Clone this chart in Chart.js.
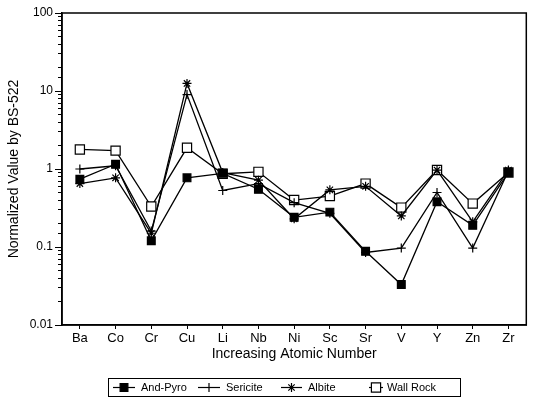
<!DOCTYPE html>
<html><head><meta charset="utf-8">
<script src="https://cdn.jsdelivr.net/npm/chart.js@4/dist/chart.umd.min.js"></script>
<style>html,body{margin:0;padding:0;background:#fff}#wrap{width:534px;height:404px;position:relative}</style>
</head><body><div id="wrap"><canvas id="c" width="534" height="404"></canvas></div>
<script>
const categories = ['Ba','Co','Cr','Cu','Li','Nb','Ni','Sc','Sr','V','Y','Zn','Zr'];
const andPyro  = [0.74, 1.15, 0.12, 0.77, 0.88, 0.55, 0.24, 0.28, 0.088, 0.033, 0.38, 0.19, 0.90];
const sericite = [1.00, 1.10, 0.16, 9.0,  0.53, 0.65, 0.37, 0.27, 0.085, 0.097, 0.50, 0.097, 0.95];
const albite   = [0.65, 0.77, 0.15, 12.5, 0.90, 0.72, 0.23, 0.54, 0.60, 0.25, 0.97, 0.21, 0.97];
const wallRock = [1.78, 1.72, 0.33, 1.87, 0.87, 0.92, 0.40, 0.45, 0.65, 0.32, 0.97, 0.36, 0.90];
const seriesNames = ['And-Pyro','Sericite','Albite','Wall Rock'];
const yTickLabels = ['0.01','0.1','1','10','100'];
const FONT = "'Liberation Sans', Arial, Helvetica, sans-serif";

function drawMarker(ctx, style, fill, r, x, y) {
  ctx.save();
  ctx.strokeStyle = '#000'; ctx.lineWidth = 1.2; ctx.fillStyle = fill;
  ctx.beginPath();
  if (style === 'rect') {
    const s = Math.SQRT1_2 * r;
    ctx.rect(x - s, y - s, 2 * s, 2 * s); ctx.fill(); ctx.stroke();
  } else if (style === 'cross') {
    ctx.moveTo(x, y - r); ctx.lineTo(x, y + r); ctx.moveTo(x - r, y); ctx.lineTo(x + r, y); ctx.stroke();
  } else if (style === 'star') {
    ctx.moveTo(x, y - r); ctx.lineTo(x, y + r); ctx.moveTo(x - r, y); ctx.lineTo(x + r, y);
    const d = r * Math.SQRT1_2;
    ctx.moveTo(x - d, y - d); ctx.lineTo(x + d, y + d); ctx.moveTo(x - d, y + d); ctx.lineTo(x + d, y - d); ctx.stroke();
  }
  ctx.restore();
}

const framePlugin = {
  id: 'frame',
  afterDraw(chart) {
    const {ctx, chartArea: a} = chart;
    ctx.save();
    ctx.strokeStyle = '#000'; ctx.lineWidth = 1.5;
    ctx.strokeRect(a.left, a.top, a.right - a.left, a.bottom - a.top);
    // longer major ticks on y axis
    const ys = chart.scales.y;
    ctx.lineWidth = 1;
    for (let e = -2; e <= 2; e++) {
      const py = Math.round(ys.getPixelForValue(Math.pow(10, e))) + 0.5;
      ctx.beginPath(); ctx.moveTo(a.left - 7, py); ctx.lineTo(a.left, py); ctx.stroke();
    }
    // legend
    const bx = 108, by = 378, bw = 352, bh = 18;
    ctx.lineWidth = 1;
    ctx.strokeRect(bx + 0.5, by + 0.5, bw, bh);
    const cy = by + bh / 2 + 0.5;
    const items = [[113, 135, 141], [198, 220, 226], [281, 302, 308], [369, 383, 387]];
    ctx.font = '11px ' + FONT;
    ctx.textBaseline = 'middle'; ctx.textAlign = 'left';
    chart.data.datasets.forEach((ds, i) => {
      const [x1, x2, tx] = items[i];
      ctx.strokeStyle = '#000'; ctx.lineWidth = 1.2;
      ctx.beginPath(); ctx.moveTo(x1, cy); ctx.lineTo(x2, cy); ctx.stroke();
      drawMarker(ctx, ds.pointStyle, ds.pointBackgroundColor, ds.pointRadius, (x1 + x2) / 2, cy);
      ctx.fillStyle = '#000';
      ctx.fillText(ds.label, tx, cy + 0.5);
    });
    ctx.restore();
  }
};

function mk(label, data, style, fill, r) {
  return { label, data, borderColor: '#000', borderWidth: 1.3, tension: 0,
    pointStyle: style, pointRadius: r, pointHoverRadius: r, pointBackgroundColor: fill,
    pointBorderColor: '#000', pointBorderWidth: 1.2 };
}

new Chart(document.getElementById('c'), {
  type: 'line',
  data: {
    labels: categories,
    datasets: [
      mk(seriesNames[0], andPyro, 'rect', '#000', 5.5),
      mk(seriesNames[1], sericite, 'cross', '#000', 4.5),
      mk(seriesNames[2], albite, 'star', '#000', 4.5),
      mk(seriesNames[3], wallRock, 'rect', '#fff', 6.5)
    ]
  },
  options: {
    responsive: false, animation: false, devicePixelRatio: 1,
    layout: { padding: { left: 0, top: 13, right: 2, bottom: 41 } },
    plugins: { legend: { display: false }, tooltip: { enabled: false } },
    scales: {
      x: {
        type: 'category', offset: true,
        grid: { display: true, drawOnChartArea: false, offset: false, tickLength: 4, color: '#000' },
        border: { display: true, color: '#000', width: 1.5 },
        ticks: { color: '#000', font: { family: FONT, size: 13 }, padding: 2, maxRotation: 0, autoSkip: false },
        title: { display: true, text: 'Increasing Atomic Number', color: '#000', font: { family: FONT, size: 14 }, padding: 0 },
        afterFit(s) { s.height = 38; }
      },
      y: {
        type: 'logarithmic', min: 0.01, max: 100,
        grid: { display: true, drawOnChartArea: false, tickLength: 4, color: '#000' },
        border: { display: true, color: '#000', width: 1.5 },
        ticks: {
          color: '#000', font: { family: FONT, size: 12 }, padding: 5, autoSkip: false,
          callback(v) {
            const e = Math.log10(v);
            if (Math.abs(e - Math.round(e)) < 1e-6) return yTickLabels[Math.round(e) + 2];
            return '';
          }
        },
        title: { display: true, text: 'Normalized Value by BS-522', color: '#000', font: { family: FONT, size: 14 }, padding: { top: 6, bottom: 0 } },
        afterFit(s) { s.width = 62; }
      }
    }
  },
  plugins: [framePlugin]
});
</script></body></html>
